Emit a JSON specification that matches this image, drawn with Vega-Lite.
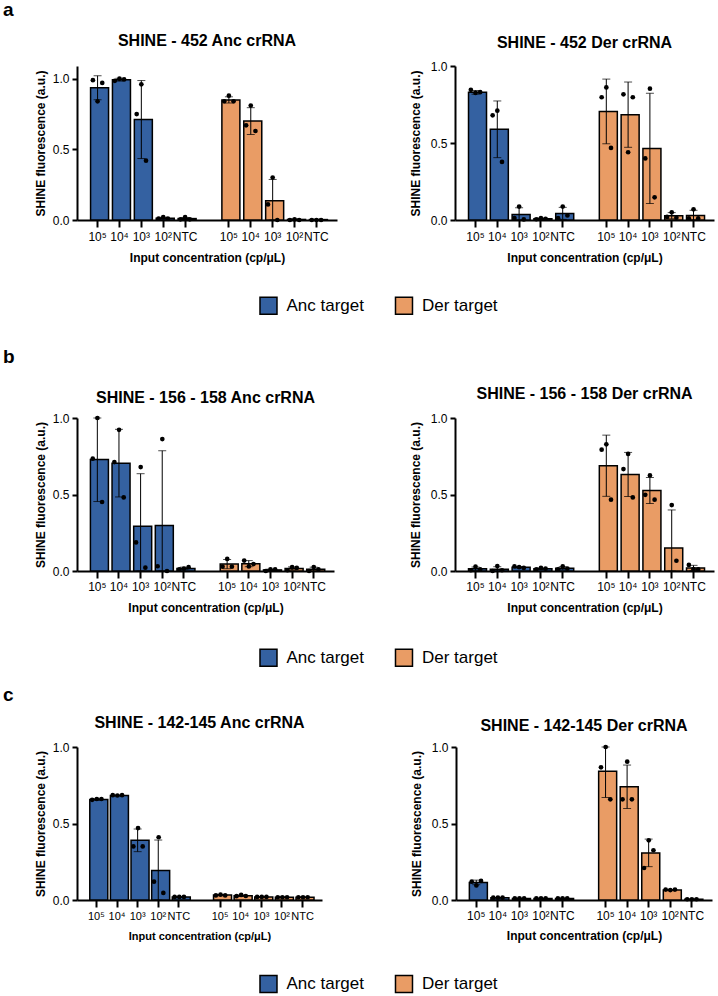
{
"$schema":"https://vega.github.io/schema/vega-lite/v6.json",
"padding":{"left":3,"top":0,"right":5,"bottom":0},
"background":"white",
"config":{
 "font":"Liberation Sans",
 "view":{"stroke":null},
 "axis":{"domainColor":"black","domainWidth":2,"tickColor":"black","tickWidth":2,"tickSize":5,"labelColor":"black","titleColor":"black","labelFontSize":12,"titleFontSize":12,"titleFontWeight":"bold","grid":false,"labelFont":"Liberation Sans","titleFont":"Liberation Sans"},
 "axisX":{"labelAngle":0,"labelPadding":3,"tickSize":7},
 "axisY":{"labelPadding":3},
 "title":{"font":"Liberation Sans","color":"black"},
 "text":{"font":"Liberation Sans"}
},
"datasets":{
 "leg":[{"t":"Anc target"},{"t":"Der target"}],
 "bars":[
  {"p":"a1","t":"Anc target","c":"A 10⁵","v":0.936,"sd":0.085},
  {"p":"a1","t":"Anc target","c":"A 10⁴","v":0.993,"sd":0.01},
  {"p":"a1","t":"Anc target","c":"A 10³","v":0.711,"sd":0.276},
  {"p":"a1","t":"Anc target","c":"A 10²","v":0.013,"sd":0.006},
  {"p":"a1","t":"Anc target","c":"A NTC","v":0.01,"sd":0.008},
  {"p":"a1","t":"Der target","c":"D 10⁵","v":0.85,"sd":0.022},
  {"p":"a1","t":"Der target","c":"D 10⁴","v":0.70,"sd":0.095},
  {"p":"a1","t":"Der target","c":"D 10³","v":0.137,"sd":0.15},
  {"p":"a1","t":"Der target","c":"D 10²","v":0.004,"sd":0.003},
  {"p":"a1","t":"Der target","c":"D NTC","v":0.003,"sd":0.002},
  {"p":"a2","t":"Anc target","c":"A 10⁵","v":0.829,"sd":0.012},
  {"p":"a2","t":"Anc target","c":"A 10⁴","v":0.589,"sd":0.184},
  {"p":"a2","t":"Anc target","c":"A 10³","v":0.035,"sd":0.045},
  {"p":"a2","t":"Anc target","c":"A 10²","v":0.008,"sd":0.005},
  {"p":"a2","t":"Anc target","c":"A NTC","v":0.043,"sd":0.039},
  {"p":"a2","t":"Der target","c":"D 10⁵","v":0.705,"sd":0.21},
  {"p":"a2","t":"Der target","c":"D 10⁴","v":0.684,"sd":0.212},
  {"p":"a2","t":"Der target","c":"D 10³","v":0.465,"sd":0.358},
  {"p":"a2","t":"Der target","c":"D 10²","v":0.028,"sd":0.02},
  {"p":"a2","t":"Der target","c":"D NTC","v":0.03,"sd":0.033},
  {"p":"b1","t":"Anc target","c":"A 10⁵","v":0.728,"sd":0.274},
  {"p":"b1","t":"Anc target","c":"A 10⁴","v":0.705,"sd":0.221},
  {"p":"b1","t":"Anc target","c":"A 10³","v":0.293,"sd":0.343},
  {"p":"b1","t":"Anc target","c":"A 10²","v":0.298,"sd":0.488},
  {"p":"b1","t":"Anc target","c":"A NTC","v":0.017,"sd":0.008},
  {"p":"b1","t":"Der target","c":"D 10⁵","v":0.045,"sd":0.03},
  {"p":"b1","t":"Der target","c":"D 10⁴","v":0.048,"sd":0.02},
  {"p":"b1","t":"Der target","c":"D 10³","v":0.007,"sd":0.005},
  {"p":"b1","t":"Der target","c":"D 10²","v":0.017,"sd":0.01},
  {"p":"b1","t":"Der target","c":"D NTC","v":0.012,"sd":0.013},
  {"p":"b2","t":"Anc target","c":"A 10⁵","v":0.014,"sd":0.012},
  {"p":"b2","t":"Anc target","c":"A 10⁴","v":0.012,"sd":0.016},
  {"p":"b2","t":"Anc target","c":"A 10³","v":0.025,"sd":0.005},
  {"p":"b2","t":"Anc target","c":"A 10²","v":0.015,"sd":0.005},
  {"p":"b2","t":"Anc target","c":"A NTC","v":0.018,"sd":0.01},
  {"p":"b2","t":"Der target","c":"D 10⁵","v":0.688,"sd":0.2},
  {"p":"b2","t":"Der target","c":"D 10⁴","v":0.631,"sd":0.144},
  {"p":"b2","t":"Der target","c":"D 10³","v":0.526,"sd":0.085},
  {"p":"b2","t":"Der target","c":"D 10²","v":0.151,"sd":0.248},
  {"p":"b2","t":"Der target","c":"D NTC","v":0.02,"sd":0.017},
  {"p":"c1","t":"Anc target","c":"A 10⁵","v":0.657,"sd":0.005},
  {"p":"c1","t":"Anc target","c":"A 10⁴","v":0.683,"sd":0.003},
  {"p":"c1","t":"Anc target","c":"A 10³","v":0.39,"sd":0.074},
  {"p":"c1","t":"Anc target","c":"A 10²","v":0.192,"sd":0.2},
  {"p":"c1","t":"Anc target","c":"A NTC","v":0.02,"sd":0.002},
  {"p":"c1","t":"Der target","c":"D 10⁵","v":0.032,"sd":0.004},
  {"p":"c1","t":"Der target","c":"D 10⁴","v":0.028,"sd":0.005},
  {"p":"c1","t":"Der target","c":"D 10³","v":0.02,"sd":0.003},
  {"p":"c1","t":"Der target","c":"D 10²","v":0.018,"sd":0.003},
  {"p":"c1","t":"Der target","c":"D NTC","v":0.018,"sd":0.002},
  {"p":"c2","t":"Anc target","c":"A 10⁵","v":0.115,"sd":0.015},
  {"p":"c2","t":"Anc target","c":"A 10⁴","v":0.015,"sd":0.002},
  {"p":"c2","t":"Anc target","c":"A 10³","v":0.01,"sd":0.002},
  {"p":"c2","t":"Anc target","c":"A 10²","v":0.01,"sd":0.002},
  {"p":"c2","t":"Anc target","c":"A NTC","v":0.01,"sd":0.002},
  {"p":"c2","t":"Der target","c":"D 10⁵","v":0.842,"sd":0.172},
  {"p":"c2","t":"Der target","c":"D 10⁴","v":0.74,"sd":0.142},
  {"p":"c2","t":"Der target","c":"D 10³","v":0.308,"sd":0.09},
  {"p":"c2","t":"Der target","c":"D 10²","v":0.065,"sd":0.004},
  {"p":"c2","t":"Der target","c":"D NTC","v":0.005,"sd":0.001}
 ],
 "pts":[
  {"p":"a1","c":"A 10⁵","r":1,"v":0.99},{"p":"a1","c":"A 10⁵","r":2,"v":0.84},{"p":"a1","c":"A 10⁵","r":3,"v":0.97},
  {"p":"a1","c":"A 10⁴","r":1,"v":0.985},{"p":"a1","c":"A 10⁴","r":2,"v":1.0},{"p":"a1","c":"A 10⁴","r":3,"v":0.995},
  {"p":"a1","c":"A 10³","r":1,"v":0.75},{"p":"a1","c":"A 10³","r":2,"v":0.96},{"p":"a1","c":"A 10³","r":3,"v":0.42},
  {"p":"a1","c":"A 10²","r":1,"v":0.01},{"p":"a1","c":"A 10²","r":2,"v":0.02},{"p":"a1","c":"A 10²","r":3,"v":0.01},
  {"p":"a1","c":"A NTC","r":1,"v":0.005},{"p":"a1","c":"A NTC","r":2,"v":0.02},{"p":"a1","c":"A NTC","r":3,"v":0.005},
  {"p":"a1","c":"D 10⁵","r":1,"v":0.84},{"p":"a1","c":"D 10⁵","r":2,"v":0.88},{"p":"a1","c":"D 10⁵","r":3,"v":0.84},
  {"p":"a1","c":"D 10⁴","r":1,"v":0.67},{"p":"a1","c":"D 10⁴","r":2,"v":0.81},{"p":"a1","c":"D 10⁴","r":3,"v":0.63},
  {"p":"a1","c":"D 10³","r":1,"v":0.11},{"p":"a1","c":"D 10³","r":2,"v":0.30},{"p":"a1","c":"D 10³","r":3,"v":0.0},
  {"p":"a1","c":"D 10²","r":1,"v":0.0},{"p":"a1","c":"D 10²","r":2,"v":0.005},{"p":"a1","c":"D 10²","r":3,"v":0.0},
  {"p":"a1","c":"D NTC","r":1,"v":0.0},{"p":"a1","c":"D NTC","r":2,"v":0.0},{"p":"a1","c":"D NTC","r":3,"v":0.0},
  {"p":"a2","c":"A 10⁵","r":1,"v":0.845},{"p":"a2","c":"A 10⁵","r":2,"v":0.825},{"p":"a2","c":"A 10⁵","r":3,"v":0.83},
  {"p":"a2","c":"A 10⁴","r":1,"v":0.68},{"p":"a2","c":"A 10⁴","r":2,"v":0.71},{"p":"a2","c":"A 10⁴","r":3,"v":0.377},
  {"p":"a2","c":"A 10³","r":1,"v":0.013},{"p":"a2","c":"A 10³","r":2,"v":0.087},{"p":"a2","c":"A 10³","r":3,"v":0.004},
  {"p":"a2","c":"A 10²","r":1,"v":0.005},{"p":"a2","c":"A 10²","r":2,"v":0.012},{"p":"a2","c":"A 10²","r":3,"v":0.008},
  {"p":"a2","c":"A NTC","r":1,"v":0.012},{"p":"a2","c":"A NTC","r":2,"v":0.087},{"p":"a2","c":"A NTC","r":3,"v":0.03},
  {"p":"a2","c":"D 10⁵","r":1,"v":0.797},{"p":"a2","c":"D 10⁵","r":2,"v":0.861},{"p":"a2","c":"D 10⁵","r":3,"v":0.468},
  {"p":"a2","c":"D 10⁴","r":1,"v":0.816},{"p":"a2","c":"D 10⁴","r":2,"v":0.44},{"p":"a2","c":"D 10⁴","r":3,"v":0.797},
  {"p":"a2","c":"D 10³","r":1,"v":0.40},{"p":"a2","c":"D 10³","r":2,"v":0.853},{"p":"a2","c":"D 10³","r":3,"v":0.147},
  {"p":"a2","c":"D 10²","r":1,"v":0.02},{"p":"a2","c":"D 10²","r":2,"v":0.05},{"p":"a2","c":"D 10²","r":3,"v":0.015},
  {"p":"a2","c":"D NTC","r":1,"v":0.01},{"p":"a2","c":"D NTC","r":2,"v":0.069},{"p":"a2","c":"D NTC","r":3,"v":0.01},
  {"p":"b1","c":"A 10⁵","r":1,"v":0.734},{"p":"b1","c":"A 10⁵","r":2,"v":1.0},{"p":"b1","c":"A 10⁵","r":3,"v":0.451},
  {"p":"b1","c":"A 10⁴","r":1,"v":0.712},{"p":"b1","c":"A 10⁴","r":2,"v":0.923},{"p":"b1","c":"A 10⁴","r":3,"v":0.481},
  {"p":"b1","c":"A 10³","r":1,"v":0.187},{"p":"b1","c":"A 10³","r":2,"v":0.679},{"p":"b1","c":"A 10³","r":3,"v":0.022},
  {"p":"b1","c":"A 10²","r":1,"v":0.031},{"p":"b1","c":"A 10²","r":2,"v":0.862},{"p":"b1","c":"A 10²","r":3,"v":0.0},
  {"p":"b1","c":"A NTC","r":1,"v":0.01},{"p":"b1","c":"A NTC","r":2,"v":0.015},{"p":"b1","c":"A NTC","r":3,"v":0.025},
  {"p":"b1","c":"D 10⁵","r":1,"v":0.028},{"p":"b1","c":"D 10⁵","r":2,"v":0.079},{"p":"b1","c":"D 10⁵","r":3,"v":0.028},
  {"p":"b1","c":"D 10⁴","r":1,"v":0.068},{"p":"b1","c":"D 10⁴","r":2,"v":0.03},{"p":"b1","c":"D 10⁴","r":3,"v":0.045},
  {"p":"b1","c":"D 10³","r":1,"v":0.0},{"p":"b1","c":"D 10³","r":2,"v":0.01},{"p":"b1","c":"D 10³","r":3,"v":0.01},
  {"p":"b1","c":"D 10²","r":1,"v":0.005},{"p":"b1","c":"D 10²","r":2,"v":0.025},{"p":"b1","c":"D 10²","r":3,"v":0.02},
  {"p":"b1","c":"D NTC","r":1,"v":0.0},{"p":"b1","c":"D NTC","r":2,"v":0.026},{"p":"b1","c":"D NTC","r":3,"v":0.01},
  {"p":"b2","c":"A 10⁵","r":1,"v":0.005},{"p":"b2","c":"A 10⁵","r":2,"v":0.028},{"p":"b2","c":"A 10⁵","r":3,"v":0.01},
  {"p":"b2","c":"A 10⁴","r":1,"v":0.0},{"p":"b2","c":"A 10⁴","r":2,"v":0.032},{"p":"b2","c":"A 10⁴","r":3,"v":0.005},
  {"p":"b2","c":"A 10³","r":1,"v":0.03},{"p":"b2","c":"A 10³","r":2,"v":0.025},{"p":"b2","c":"A 10³","r":3,"v":0.02},
  {"p":"b2","c":"A 10²","r":1,"v":0.01},{"p":"b2","c":"A 10²","r":2,"v":0.02},{"p":"b2","c":"A 10²","r":3,"v":0.015},
  {"p":"b2","c":"A NTC","r":1,"v":0.01},{"p":"b2","c":"A NTC","r":2,"v":0.03},{"p":"b2","c":"A NTC","r":3,"v":0.015},
  {"p":"b2","c":"D 10⁵","r":1,"v":0.793},{"p":"b2","c":"D 10⁵","r":2,"v":0.828},{"p":"b2","c":"D 10⁵","r":3,"v":0.466},
  {"p":"b2","c":"D 10⁴","r":1,"v":0.666},{"p":"b2","c":"D 10⁴","r":2,"v":0.765},{"p":"b2","c":"D 10⁴","r":3,"v":0.481},
  {"p":"b2","c":"D 10³","r":1,"v":0.498},{"p":"b2","c":"D 10³","r":2,"v":0.625},{"p":"b2","c":"D 10³","r":3,"v":0.466},
  {"p":"b2","c":"D 10²","r":2,"v":0.431},{"p":"b2","c":"D 10²","r":3,"v":0.067},
  {"p":"b2","c":"D NTC","r":1,"v":0.04},{"p":"b2","c":"D NTC","r":2,"v":0.012},{"p":"b2","c":"D NTC","r":3,"v":0.01},
  {"p":"c1","c":"A 10⁵","r":1,"v":0.655},{"p":"c1","c":"A 10⁵","r":2,"v":0.66},{"p":"c1","c":"A 10⁵","r":3,"v":0.66},
  {"p":"c1","c":"A 10⁴","r":1,"v":0.685},{"p":"c1","c":"A 10⁴","r":2,"v":0.683},{"p":"c1","c":"A 10⁴","r":3,"v":0.685},
  {"p":"c1","c":"A 10³","r":1,"v":0.35},{"p":"c1","c":"A 10³","r":2,"v":0.47},{"p":"c1","c":"A 10³","r":3,"v":0.35},
  {"p":"c1","c":"A 10²","r":1,"v":0.12},{"p":"c1","c":"A 10²","r":2,"v":0.41},{"p":"c1","c":"A 10²","r":3,"v":0.046},
  {"p":"c1","c":"A NTC","r":1,"v":0.02},{"p":"c1","c":"A NTC","r":2,"v":0.02},{"p":"c1","c":"A NTC","r":3,"v":0.02},
  {"p":"c1","c":"D 10⁵","r":1,"v":0.03},{"p":"c1","c":"D 10⁵","r":2,"v":0.035},{"p":"c1","c":"D 10⁵","r":3,"v":0.03},
  {"p":"c1","c":"D 10⁴","r":1,"v":0.025},{"p":"c1","c":"D 10⁴","r":2,"v":0.033},{"p":"c1","c":"D 10⁴","r":3,"v":0.026},
  {"p":"c1","c":"D 10³","r":1,"v":0.02},{"p":"c1","c":"D 10³","r":2,"v":0.02},{"p":"c1","c":"D 10³","r":3,"v":0.02},
  {"p":"c1","c":"D 10²","r":1,"v":0.018},{"p":"c1","c":"D 10²","r":2,"v":0.018},{"p":"c1","c":"D 10²","r":3,"v":0.018},
  {"p":"c1","c":"D NTC","r":1,"v":0.018},{"p":"c1","c":"D NTC","r":2,"v":0.018},{"p":"c1","c":"D NTC","r":3,"v":0.018},
  {"p":"c2","c":"A 10⁵","r":1,"v":0.12},{"p":"c2","c":"A 10⁵","r":2,"v":0.095},{"p":"c2","c":"A 10⁵","r":3,"v":0.125},
  {"p":"c2","c":"A 10⁴","r":1,"v":0.015},{"p":"c2","c":"A 10⁴","r":2,"v":0.015},{"p":"c2","c":"A 10⁴","r":3,"v":0.015},
  {"p":"c2","c":"A 10³","r":1,"v":0.01},{"p":"c2","c":"A 10³","r":2,"v":0.01},{"p":"c2","c":"A 10³","r":3,"v":0.01},
  {"p":"c2","c":"A 10²","r":1,"v":0.01},{"p":"c2","c":"A 10²","r":2,"v":0.01},{"p":"c2","c":"A 10²","r":3,"v":0.01},
  {"p":"c2","c":"A NTC","r":1,"v":0.01},{"p":"c2","c":"A NTC","r":2,"v":0.01},{"p":"c2","c":"A NTC","r":3,"v":0.01},
  {"p":"c2","c":"D 10⁵","r":1,"v":0.867},{"p":"c2","c":"D 10⁵","r":2,"v":1.0},{"p":"c2","c":"D 10⁵","r":3,"v":0.658},
  {"p":"c2","c":"D 10⁴","r":1,"v":0.658},{"p":"c2","c":"D 10⁴","r":2,"v":0.904},{"p":"c2","c":"D 10⁴","r":3,"v":0.658},
  {"p":"c2","c":"D 10³","r":1,"v":0.209},{"p":"c2","c":"D 10³","r":2,"v":0.39},{"p":"c2","c":"D 10³","r":3,"v":0.325},
  {"p":"c2","c":"D 10²","r":1,"v":0.068},{"p":"c2","c":"D 10²","r":2,"v":0.065},{"p":"c2","c":"D 10²","r":3,"v":0.068},
  {"p":"c2","c":"D NTC","r":1,"v":0.005},{"p":"c2","c":"D NTC","r":2,"v":0.005},{"p":"c2","c":"D NTC","r":3,"v":0.005}
 ]
},
"spacing":0,
"vconcat":[
 {"title":{"text":"a","anchor":"start","fontSize":19,"fontWeight":"bold","dx":-74,"offset":13.5,"frame":"group"},
  "spacing":72,
  "hconcat":[
   {"width":260,"height":154,
    "title":{"text":"SHINE - 452 Anc crRNA","fontSize":16,"fontWeight":"bold","offset":17,"frame":"group"},
    "encoding":{
     "x":{"field":"c","type":"nominal","scale":{"domain":["A 10⁵","A 10⁴","A 10³","A 10²","A NTC","gap","D 10⁵","D 10⁴","D 10³","D 10²","D NTC"],"paddingInner":0.36,"paddingOuter":0.62},"axis":{"title":"Input concentration (cp/μL)","labelPadding":4,"titlePadding":10,"values":["A 10⁵","A 10⁴","A 10³","A 10²","A NTC","D 10⁵","D 10⁴","D 10³","D 10²","D NTC"],"labelExpr":"split(datum.value,' ')[1]"}},
     "y":{"field":"v","type":"quantitative","scale":{"domain":[0,1.09],"nice":false,"clamp":true},"axis":{"title":"SHINE fluorescence (a.u.)","values":[0,0.5,1],"format":".1f","titlePadding":5}}},
    "layer":[
     {"data":{"name":"bars"},"transform":[{"filter":"datum.p=='a1'"}],"mark":{"type":"bar","stroke":"black","strokeWidth":1.5},"encoding":{"color":{"field":"t","type":"nominal","scale":{"domain":["Anc target","Der target"],"range":["#3461a1","#e99c65"]},"legend":null}}},
     {"data":{"name":"bars"},"transform":[{"filter":"datum.p=='a1'"}],"mark":{"type":"errorbar","color":"black","thickness":1,"ticks":{"size":8,"color":"black"}},"encoding":{"yError":{"field":"sd"}}},
     {"data":{"name":"pts"},"transform":[{"filter":"datum.p=='a1'"}],"mark":{"type":"circle","color":"black","size":22,"opacity":1},"encoding":{"xOffset":{"field":"r","type":"nominal"}}}
    ]},
   {"width":259,"height":154,
    "title":{"text":"SHINE - 452 Der crRNA","fontSize":16,"fontWeight":"bold","offset":9,"frame":"group"},
    "encoding":{
     "x":{"field":"c","type":"nominal","scale":{"domain":["A 10⁵","A 10⁴","A 10³","A 10²","A NTC","gap","D 10⁵","D 10⁴","D 10³","D 10²","D NTC"],"paddingInner":0.36,"paddingOuter":0.62},"axis":{"title":"Input concentration (cp/μL)","labelPadding":4,"titlePadding":10,"values":["A 10⁵","A 10⁴","A 10³","A 10²","A NTC","D 10⁵","D 10⁴","D 10³","D 10²","D NTC"],"labelExpr":"split(datum.value,' ')[1]"}},
     "y":{"field":"v","type":"quantitative","scale":{"domain":[0,1],"nice":false,"clamp":true},"axis":{"title":"SHINE fluorescence (a.u.)","values":[0,0.5,1],"format":".1f","titlePadding":8}}},
    "layer":[
     {"data":{"name":"bars"},"transform":[{"filter":"datum.p=='a2'"}],"mark":{"type":"bar","stroke":"black","strokeWidth":1.5},"encoding":{"color":{"field":"t","type":"nominal","scale":{"domain":["Anc target","Der target"],"range":["#3461a1","#e99c65"]},"legend":null}}},
     {"data":{"name":"bars"},"transform":[{"filter":"datum.p=='a2'"}],"mark":{"type":"errorbar","color":"black","thickness":1,"ticks":{"size":8,"color":"black"}},"encoding":{"yError":{"field":"sd"}}},
     {"data":{"name":"pts"},"transform":[{"filter":"datum.p=='a2'"}],"mark":{"type":"circle","color":"black","size":22,"opacity":1},"encoding":{"xOffset":{"field":"r","type":"nominal"}}}
    ]}
  ]},
 {"width":406.5,"height":84,"data":{"name":"leg"},
  "encoding":{"x":{"field":"t","type":"nominal","scale":{"type":"point","domain":["Anc target","Der target"],"padding":1,"align":0.7066},"axis":null},
   "y":{"datum":"k","type":"nominal","scale":{"type":"point","padding":0,"align":0.51},"axis":null}},
  "layer":[
   {"mark":{"type":"point","shape":"square","filled":true,"size":289,"stroke":"black","strokeWidth":1.5,"opacity":1},"encoding":{"color":{"field":"t","type":"nominal","scale":{"domain":["Anc target","Der target"],"range":["#3461a1","#e99c65"]},"legend":null}}},
   {"mark":{"type":"text","align":"left","baseline":"middle","dx":18,"fontSize":17,"color":"black"},"encoding":{"text":{"field":"t"}}}
  ]},
 {"title":{"text":"b","anchor":"start","fontSize":19,"fontWeight":"bold","dx":-74,"offset":19.5,"frame":"group"},
  "spacing":75,
  "hconcat":[
   {"width":257,"height":153,
    "title":{"text":"SHINE - 156 - 158 Anc crRNA","fontSize":16,"fontWeight":"bold","offset":6,"frame":"group"},
    "encoding":{
     "x":{"field":"c","type":"nominal","scale":{"domain":["A 10⁵","A 10⁴","A 10³","A 10²","A NTC","gap","D 10⁵","D 10⁴","D 10³","D 10²","D NTC"],"paddingInner":0.36,"paddingOuter":0.62},"axis":{"title":"Input concentration (cp/μL)","titlePadding":10,"values":["A 10⁵","A 10⁴","A 10³","A 10²","A NTC","D 10⁵","D 10⁴","D 10³","D 10²","D NTC"],"labelExpr":"split(datum.value,' ')[1]"}},
     "y":{"field":"v","type":"quantitative","scale":{"domain":[0,1],"nice":false,"clamp":true},"axis":{"title":"SHINE fluorescence (a.u.)","values":[0,0.5,1],"format":".1f","titlePadding":5}}},
    "layer":[
     {"data":{"name":"bars"},"transform":[{"filter":"datum.p=='b1'"}],"mark":{"type":"bar","stroke":"black","strokeWidth":1.5},"encoding":{"color":{"field":"t","type":"nominal","scale":{"domain":["Anc target","Der target"],"range":["#3461a1","#e99c65"]},"legend":null}}},
     {"data":{"name":"bars"},"transform":[{"filter":"datum.p=='b1'"}],"mark":{"type":"errorbar","color":"black","thickness":1,"ticks":{"size":8,"color":"black"}},"encoding":{"yError":{"field":"sd"}}},
     {"data":{"name":"pts"},"transform":[{"filter":"datum.p=='b1'"}],"mark":{"type":"circle","color":"black","size":22,"opacity":1},"encoding":{"xOffset":{"field":"r","type":"nominal"}}}
    ]},
   {"width":259,"height":153,
    "title":{"text":"SHINE - 156 - 158 Der crRNA","fontSize":16,"fontWeight":"bold","offset":10,"frame":"group"},
    "encoding":{
     "x":{"field":"c","type":"nominal","scale":{"domain":["A 10⁵","A 10⁴","A 10³","A 10²","A NTC","gap","D 10⁵","D 10⁴","D 10³","D 10²","D NTC"],"paddingInner":0.36,"paddingOuter":0.62},"axis":{"title":"Input concentration (cp/μL)","titlePadding":10,"values":["A 10⁵","A 10⁴","A 10³","A 10²","A NTC","D 10⁵","D 10⁴","D 10³","D 10²","D NTC"],"labelExpr":"split(datum.value,' ')[1]"}},
     "y":{"field":"v","type":"quantitative","scale":{"domain":[0,1],"nice":false,"clamp":true},"axis":{"title":"SHINE fluorescence (a.u.)","values":[0,0.5,1],"format":".1f","titlePadding":8}}},
    "layer":[
     {"data":{"name":"bars"},"transform":[{"filter":"datum.p=='b2'"}],"mark":{"type":"bar","stroke":"black","strokeWidth":1.5},"encoding":{"color":{"field":"t","type":"nominal","scale":{"domain":["Anc target","Der target"],"range":["#3461a1","#e99c65"]},"legend":null}}},
     {"data":{"name":"bars"},"transform":[{"filter":"datum.p=='b2'"}],"mark":{"type":"errorbar","color":"black","thickness":1,"ticks":{"size":8,"color":"black"}},"encoding":{"yError":{"field":"sd"}}},
     {"data":{"name":"pts"},"transform":[{"filter":"datum.p=='b2'"}],"mark":{"type":"circle","color":"black","size":22,"opacity":1},"encoding":{"xOffset":{"field":"r","type":"nominal"}}}
    ]}
  ]},
 {"width":406.5,"height":72,"data":{"name":"leg"},
  "encoding":{"x":{"field":"t","type":"nominal","scale":{"type":"point","domain":["Anc target","Der target"],"padding":1,"align":0.7066},"axis":null},
   "y":{"datum":"k","type":"nominal","scale":{"type":"point","padding":0,"align":0.622},"axis":null}},
  "layer":[
   {"mark":{"type":"point","shape":"square","filled":true,"size":289,"stroke":"black","strokeWidth":1.5,"opacity":1},"encoding":{"color":{"field":"t","type":"nominal","scale":{"domain":["Anc target","Der target"],"range":["#3461a1","#e99c65"]},"legend":null}}},
   {"mark":{"type":"text","align":"left","baseline":"middle","dx":18,"fontSize":17,"color":"black"},"encoding":{"text":{"field":"t"}}}
  ]},
 {"title":{"text":"c","anchor":"start","fontSize":19,"fontWeight":"bold","dx":-74,"offset":10.5,"frame":"group"},
  "spacing":88,
  "hconcat":[
   {"width":245,"height":153,
    "title":{"text":"SHINE - 142-145 Anc crRNA","fontSize":16,"fontWeight":"bold","offset":10,"frame":"group"},
    "encoding":{
     "x":{"field":"c","type":"nominal","scale":{"domain":["A 10⁵","A 10⁴","A 10³","A 10²","A NTC","gap","D 10⁵","D 10⁴","D 10³","D 10²","D NTC"],"paddingInner":0.36,"paddingOuter":0.62},"axis":{"title":"Input concentration (cp/μL)","titlePadding":9,"values":["A 10⁵","A 10⁴","A 10³","A 10²","A NTC","D 10⁵","D 10⁴","D 10³","D 10²","D NTC"],"labelExpr":"split(datum.value,' ')[1]","labelFontSize":11,"titleFontSize":11}},
     "y":{"field":"v","type":"quantitative","scale":{"domain":[0,1],"nice":false,"clamp":true},"axis":{"title":"SHINE fluorescence (a.u.)","values":[0,0.5,1],"format":".1f","titlePadding":5}}},
    "layer":[
     {"data":{"name":"bars"},"transform":[{"filter":"datum.p=='c1'"}],"mark":{"type":"bar","stroke":"black","strokeWidth":1.5},"encoding":{"color":{"field":"t","type":"nominal","scale":{"domain":["Anc target","Der target"],"range":["#3461a1","#e99c65"]},"legend":null}}},
     {"data":{"name":"bars"},"transform":[{"filter":"datum.p=='c1'"}],"mark":{"type":"errorbar","color":"black","thickness":1,"ticks":{"size":8,"color":"black"}},"encoding":{"yError":{"field":"sd"}}},
     {"data":{"name":"pts"},"transform":[{"filter":"datum.p=='c1'"}],"mark":{"type":"circle","color":"black","size":22,"opacity":1},"encoding":{"xOffset":{"field":"r","type":"nominal"}}}
    ]},
   {"width":256,"height":153,
    "title":{"text":"SHINE - 142-145 Der crRNA","fontSize":16,"fontWeight":"bold","offset":7.5,"frame":"group"},
    "encoding":{
     "x":{"field":"c","type":"nominal","scale":{"domain":["A 10⁵","A 10⁴","A 10³","A 10²","A NTC","gap","D 10⁵","D 10⁴","D 10³","D 10²","D NTC"],"paddingInner":0.36,"paddingOuter":0.62},"axis":{"title":"Input concentration (cp/μL)","titlePadding":9,"values":["A 10⁵","A 10⁴","A 10³","A 10²","A NTC","D 10⁵","D 10⁴","D 10³","D 10²","D NTC"],"labelExpr":"split(datum.value,' ')[1]"}},
     "y":{"field":"v","type":"quantitative","scale":{"domain":[0,1],"nice":false,"clamp":true},"axis":{"title":"SHINE fluorescence (a.u.)","values":[0,0.5,1],"format":".1f","titlePadding":8}}},
    "layer":[
     {"data":{"name":"bars"},"transform":[{"filter":"datum.p=='c2'"}],"mark":{"type":"bar","stroke":"black","strokeWidth":1.5},"encoding":{"color":{"field":"t","type":"nominal","scale":{"domain":["Anc target","Der target"],"range":["#3461a1","#e99c65"]},"legend":null}}},
     {"data":{"name":"bars"},"transform":[{"filter":"datum.p=='c2'"}],"mark":{"type":"errorbar","color":"black","thickness":1,"ticks":{"size":8,"color":"black"}},"encoding":{"yError":{"field":"sd"}}},
     {"data":{"name":"pts"},"transform":[{"filter":"datum.p=='c2'"}],"mark":{"type":"circle","color":"black","size":22,"opacity":1},"encoding":{"xOffset":{"field":"r","type":"nominal"}}}
    ]}
  ]},
 {"width":406.5,"height":53,"data":{"name":"leg"},
  "encoding":{"x":{"field":"t","type":"nominal","scale":{"type":"point","domain":["Anc target","Der target"],"padding":1,"align":0.7066},"axis":null},
   "y":{"datum":"k","type":"nominal","scale":{"type":"point","padding":0,"align":0.811},"axis":null}},
  "layer":[
   {"mark":{"type":"point","shape":"square","filled":true,"size":289,"stroke":"black","strokeWidth":1.5,"opacity":1},"encoding":{"color":{"field":"t","type":"nominal","scale":{"domain":["Anc target","Der target"],"range":["#3461a1","#e99c65"]},"legend":null}}},
   {"mark":{"type":"text","align":"left","baseline":"middle","dx":18,"fontSize":17,"color":"black"},"encoding":{"text":{"field":"t"}}}
  ]}
]
}
